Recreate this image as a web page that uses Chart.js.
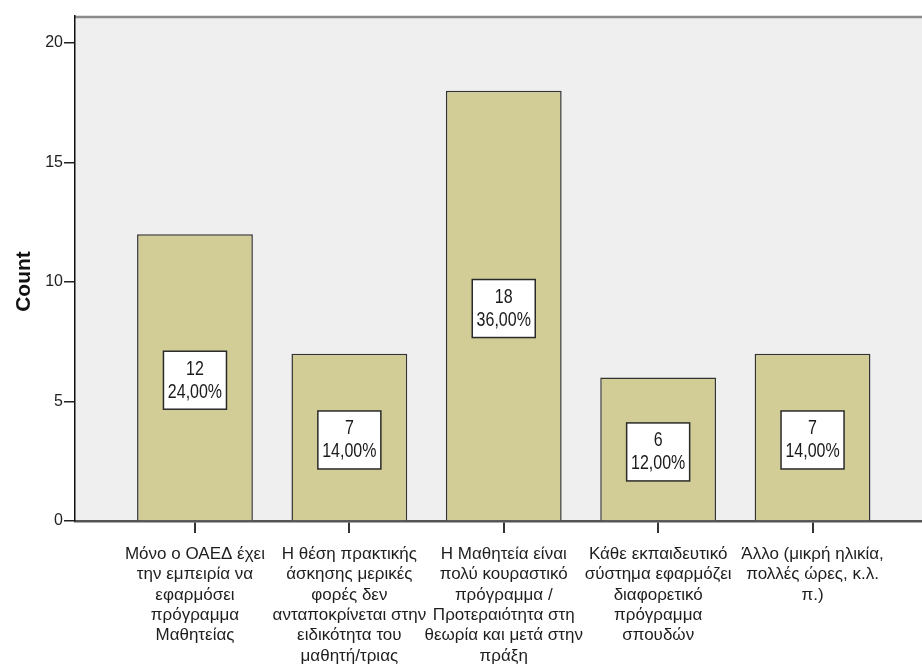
<!DOCTYPE html>
<html><head><meta charset="utf-8">
<script src="https://cdn.jsdelivr.net/npm/chart.js@4"></script>
<style>html,body{margin:0;padding:0;background:#fff;overflow:hidden}#wrap{width:922px;height:670px;position:relative}</style>
</head><body><div id="wrap"><canvas id="c" width="922" height="670"></canvas></div>
<script>
const categories = [
  ["Μόνο ο ΟΑΕΔ έχει","την εμπειρία να","εφαρμόσει","πρόγραμμα","Μαθητείας"],
  ["Η θέση πρακτικής","άσκησης μερικές","φορές δεν","ανταποκρίνεται στην","ειδικότητα του","μαθητή/τριας"],
  ["Η Μαθητεία είναι","πολύ κουραστικό","πρόγραμμα /","Προτεραιότητα στη","θεωρία και μετά στην","πράξη"],
  ["Κάθε εκπαιδευτικό","σύστημα εφαρμόζει","διαφορετικό","πρόγραμμα","σπουδών"],
  ["Άλλο (μικρή ηλικία,","πολλές ώρες, κ.λ.","π.)"]
];
const counts = [12, 7, 18, 6, 7];
const percents = ["24,00%", "14,00%", "36,00%", "12,00%", "14,00%"];
const yTicks = [0, 5, 10, 15, 20];
const yTitle = "Count";

const REG = "'Liberation Sans', Arial, sans-serif";

const bgPlugin = {
  id: 'bg',
  beforeDraw(chart) {
    const {ctx, chartArea: a} = chart;
    ctx.save();
    ctx.fillStyle = '#efefef';
    ctx.fillRect(a.left, a.top, a.right - a.left, a.bottom - a.top);
    ctx.strokeStyle = '#8a8a8a';
    ctx.lineWidth = 2.5;
    ctx.beginPath();
    ctx.moveTo(a.left, a.top + 1);
    ctx.lineTo(a.right, a.top + 1);
    ctx.stroke();
    ctx.restore();
  },
  afterDraw(chart) {
    const {ctx, chartArea: a} = chart;
    ctx.save();
    ctx.translate(24, (a.top + a.bottom) / 2 + 13);
    ctx.rotate(-Math.PI / 2);
    ctx.fillStyle = '#111';
    ctx.font = 'bold 21px ' + REG;
    ctx.textAlign = 'center';
    ctx.textBaseline = 'middle';
    ctx.fillText(yTitle, 0, 0);
    ctx.restore();
  }
};

const boxPlugin = {
  id: 'boxes',
  afterDatasetsDraw(chart) {
    const ctx = chart.ctx;
    const meta = chart.getDatasetMeta(0);
    meta.data.forEach((bar, i) => {
      const cx = bar.x, cy = (bar.y + bar.base) / 2 + 3;
      const w = 63, h = 58;
      ctx.save();
      ctx.fillStyle = '#ffffff';
      ctx.fillRect(cx - w / 2, cy - h / 2, w, h);
      ctx.strokeStyle = '#2a2a2a';
      ctx.lineWidth = 1.5;
      ctx.strokeRect(cx - w / 2, cy - h / 2, w, h);
      ctx.translate(cx, cy);
      ctx.scale(0.8, 1);
      ctx.fillStyle = '#1a1a1a';
      ctx.font = '20px ' + REG;
      ctx.textAlign = 'center';
      ctx.textBaseline = 'middle';
      ctx.fillText(String(counts[i]), 0, -11);
      ctx.fillText(percents[i], 0, 12);
      ctx.restore();
    });
  }
};

new Chart(document.getElementById('c'), {
  type: 'bar',
  data: {
    datasets: [{
      data: counts.map((v, i) => ({x: i, y: v})),
      backgroundColor: '#d2cd97',
      borderColor: '#333333',
      borderWidth: 1.5,
      barPercentage: 0.75,
      categoryPercentage: 1.0
    }]
  },
  options: {
    responsive: false,
    animation: false,
    devicePixelRatio: 1,
    layout: {padding: {top: 16, right: 0, left: 0, bottom: 0}},
    plugins: {legend: {display: false}, tooltip: {enabled: false}},
    scales: {
      x: {
        type: 'linear',
        min: -0.777,
        max: 4.709,
        offset: false,
        afterBuildTicks: s => { s.ticks = categories.map((c, i) => ({value: i})); },
        afterFit: s => { s.height = 149; },
        ticks: {
          autoSkip: false, maxRotation: 0, minRotation: 0,
          callback: v => categories[v],
          font: {family: REG, size: 17, lineHeight: 1.2},
          color: '#1e1e1e', padding: 11
        },
        grid: {display: true, offset: false, drawOnChartArea: false, drawTicks: true, tickLength: 12, color: '#333', lineWidth: 2},
        border: {display: true, color: '#555', width: 2.5}
      },
      y: {
        min: 0,
        max: 21.13,
        afterBuildTicks: s => { s.ticks = yTicks.map(v => ({value: v})); },
        afterFit: s => { s.width = 75; },
        ticks: {font: {family: REG, size: 16}, color: '#222', padding: 1},
        grid: {display: true, drawOnChartArea: false, tickLength: 11, color: '#222', lineWidth: 1.5},
        border: {display: true, color: '#111', width: 1.5}
      }
    }
  },
  plugins: [bgPlugin, boxPlugin]
});
</script>
</body></html>
